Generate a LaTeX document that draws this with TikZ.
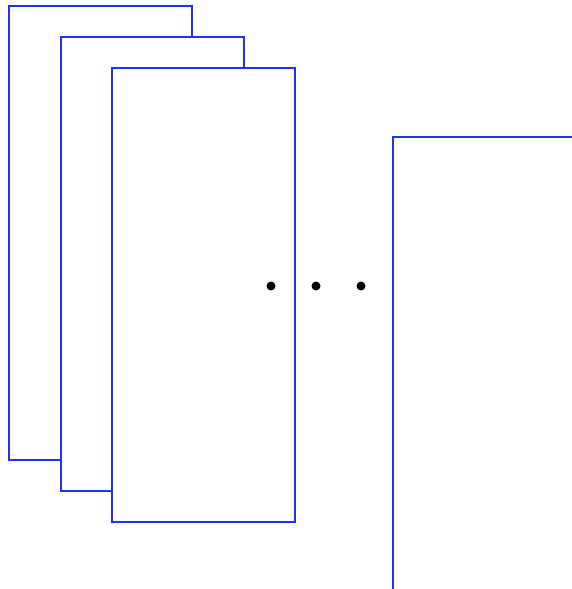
\documentclass[tikz,border=0pt]{standalone}
\usepackage{tikz}
\usetikzlibrary{positioning}
\definecolor{figFrame}{HTML}{2030F8}
\begin{document}
\begin{tikzpicture}[
  x=1pt,y=-1pt,
  frame/.style={draw=figFrame,line width=1.5pt,fill=white,inner sep=0pt,outer sep=0pt,
                minimum width=183pt,minimum height=454pt,anchor=north west},
  gapdot/.style={circle,fill=black,inner sep=0pt,minimum size=9pt}
]
\useasboundingbox (0,0) rectangle (572,589);
\clip (0,0) rectangle (572,589);
\node[frame] (f1) at (9,6)   {};
\node[frame] (f2) at (61,37) {};
\node[frame] (f3) at (112,68) {};
\node[frame] (fn) at (393,137) {};
\node[gapdot] (d1) at (271,286) {};
\node[gapdot] (d2) at (316,286) {};
\node[gapdot] (d3) at (361,286) {};
\end{tikzpicture}
\end{document}
